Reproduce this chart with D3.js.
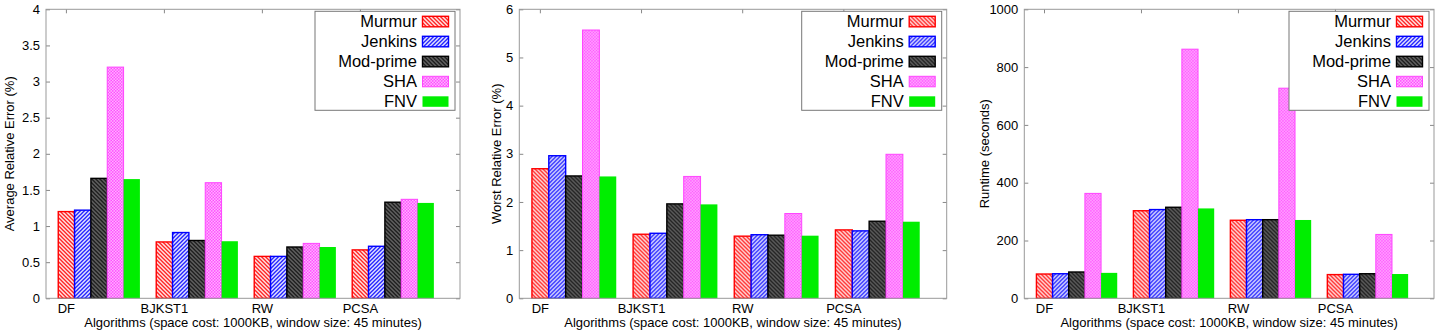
<!DOCTYPE html>
<html>
<head>
<meta charset="utf-8">
<script src="https://cdn.jsdelivr.net/npm/d3@7"></script>
<style>
  body { margin: 0; background: #fff; }
  svg { font-family: "Liberation Sans", Arial, sans-serif; }
  .tick text { font-size: 13px; fill: #000; }
  .tick line { stroke: #888; }
</style>
</head>
<body>
<svg id="chart" width="1439" height="335"></svg>
<script>
const categories = ["DF", "BJKST1", "RW", "PCSA"];
const seriesNames = ["Murmur", "Jenkins", "Mod-prime", "SHA", "FNV"];

// one row per hash function, one value per algorithm
const avgError = [
    [1.20, 0.78, 0.58, 0.67],
    [1.22, 0.91, 0.58, 0.72],
    [1.66, 0.80, 0.71, 1.33],
    [3.20, 1.60, 0.76, 1.37],
    [1.65, 0.79, 0.71, 1.32]
];
const worstError = [
    [2.69, 1.33, 1.29, 1.42],
    [2.96, 1.35, 1.32, 1.40],
    [2.54, 1.96, 1.31, 1.60],
    [5.57, 2.53, 1.76, 2.99],
    [2.53, 1.95, 1.30, 1.59]
];
const runtime = [
    [84, 303, 270, 82],
    [85, 307, 272, 83],
    [91, 315, 272, 85],
    [363, 862, 727, 221],
    [88, 311, 271, 84]
];

const avgTicks = [0, 0.5, 1, 1.5, 2, 2.5, 3, 3.5, 4];
const worstTicks = [0, 1, 2, 3, 4, 5, 6];
const runtimeTicks = [0, 200, 400, 600, 800, 1000];

const xTitle = "Algorithms (space cost: 1000KB, window size: 45 minutes)";

const svg = d3.select("#chart");
const defs = svg.append("defs");

// hatch patterns like the gnuplot fill styles
function hatch(id, bg, color, dir) {
    const p = defs.append("pattern")
        .attr("id", id)
        .attr("patternUnits", "userSpaceOnUse")
        .attr("width", 4).attr("height", 4);
    p.append("rect").attr("width", 4).attr("height", 4).attr("fill", bg);
    const d = dir === "\\" ? "M-1,-1 L5,5 M-1,3 L1,5 M3,-1 L5,1"
                           : "M-1,5 L5,-1 M-1,1 L1,-1 M3,5 L5,3";
    p.append("path").attr("d", d).attr("stroke", color).attr("stroke-width", 1.3);
}
hatch("p-murmur", "#fff", "#ff0000", "\\");
hatch("p-jenkins", "#fff", "#0000ff", "/");
hatch("p-mod", "#6a6a6a", "#111", "\\");

const chk = defs.append("pattern")
    .attr("id", "p-sha")
    .attr("patternUnits", "userSpaceOnUse")
    .attr("width", 3).attr("height", 3);
chk.append("rect").attr("width", 3).attr("height", 3).attr("fill", "#ffd0ff");
chk.append("rect").attr("width", 1.5).attr("height", 1.5).attr("fill", "#ff33ff");
chk.append("rect").attr("x", 1.5).attr("y", 1.5).attr("width", 1.5).attr("height", 1.5).attr("fill", "#ff33ff");

const fills = ["url(#p-murmur)", "url(#p-jenkins)", "url(#p-mod)", "url(#p-sha)", "#00ee00"];
const strokes = ["#ff0000", "#0000ff", "#000", "#ff44ff", "none"];

function drawChart(opt) {
    const top = 9.3, bottom = 298.3;
    const w = opt.right - opt.left, h = bottom - top;
    const g = svg.append("g").attr("transform", `translate(${opt.left},${top})`);

    // bar units: 5 bars + 1 gap per group
    const x = d3.scaleLinear().domain([-0.75, 24.6]).range([0, w]);
    const y = d3.scaleLinear().domain(opt.domain).range([h, 0]);

    opt.values.forEach((row, s) => {
        g.selectAll(".bar" + s)
            .data(row)
            .enter().append("rect")
            .attr("x", (d, i) => x(i * 6 + s))
            .attr("width", x(1) - x(0))
            .attr("y", d => y(d))
            .attr("height", d => h - y(d))
            .attr("fill", fills[s])
            .attr("stroke", strokes[s])
            .attr("stroke-width", s === 3 ? 1 : 1.4);
    });

    const yAxis = d3.axisLeft(y).tickValues(opt.ticks).tickSize(-4).tickPadding(6).tickFormat(d3.format("~g"));
    g.append("g").call(yAxis).call(a => a.select(".domain").remove());
    g.append("g").attr("transform", `translate(${w},0)`)
        .call(d3.axisRight(y).tickValues(opt.ticks).tickSize(-4).tickFormat(""))
        .call(a => a.select(".domain").remove());

    const tickPos = categories.map((c, i) => x(i * 6 + 0.5));
    g.selectAll(".xt").data(categories).enter().append("text")
        .attr("x", (d, i) => tickPos[i])
        .attr("y", h + 15)
        .attr("text-anchor", "middle")
        .attr("font-size", 13)
        .text(d => d);
    g.selectAll(".xtop").data(tickPos).enter().append("line")
        .attr("x1", d => d).attr("x2", d => d)
        .attr("y1", 0).attr("y2", 4)
        .attr("stroke", "#888");

    g.append("rect")
        .attr("width", w).attr("height", h)
        .attr("fill", "none").attr("stroke", "#999").attr("stroke-width", 1);

    g.append("text")
        .attr("x", w / 2).attr("y", h + 29)
        .attr("text-anchor", "middle")
        .attr("font-size", 13)
        .text(xTitle);

    g.append("text")
        .attr("transform", `translate(${opt.titleX - opt.left},${h / 2}) rotate(-90)`)
        .attr("text-anchor", "middle")
        .attr("dy", "0.35em")
        .attr("font-size", 13)
        .text(opt.yTitle);

    // legend
    const lg = g.append("g").attr("transform", `translate(${w - 145},2)`);
    lg.append("rect").attr("width", 140).attr("height", 99)
        .attr("fill", "#fff").attr("stroke", "#777").attr("stroke-width", 1);
    seriesNames.forEach((name, s) => {
        const yy = 10 + s * 20;
        lg.append("text")
            .attr("x", 102).attr("y", yy)
            .attr("dy", "0.36em")
            .attr("text-anchor", "end")
            .attr("font-size", 16.5)
            .text(name);
        lg.append("rect")
            .attr("x", 107.5).attr("y", yy - 5)
            .attr("width", 26).attr("height", 10.5)
            .attr("fill", fills[s])
            .attr("stroke", strokes[s])
            .attr("stroke-width", s === 3 ? 1 : 1.4);
    });
}

drawChart({ left: 46, right: 460, titleX: 9.5, values: avgError, domain: [0, 4], ticks: avgTicks, yTitle: "Average Relative Error (%)" });
drawChart({ left: 519.3, right: 946.7, titleX: 496.7, values: worstError, domain: [0, 6], ticks: worstTicks, yTitle: "Worst Relative Error (%)" });
drawChart({ left: 1024.3, right: 1434, titleX: 984, values: runtime, domain: [0, 1000], ticks: runtimeTicks, yTitle: "Runtime (seconds)" });
</script>
</body>
</html>
